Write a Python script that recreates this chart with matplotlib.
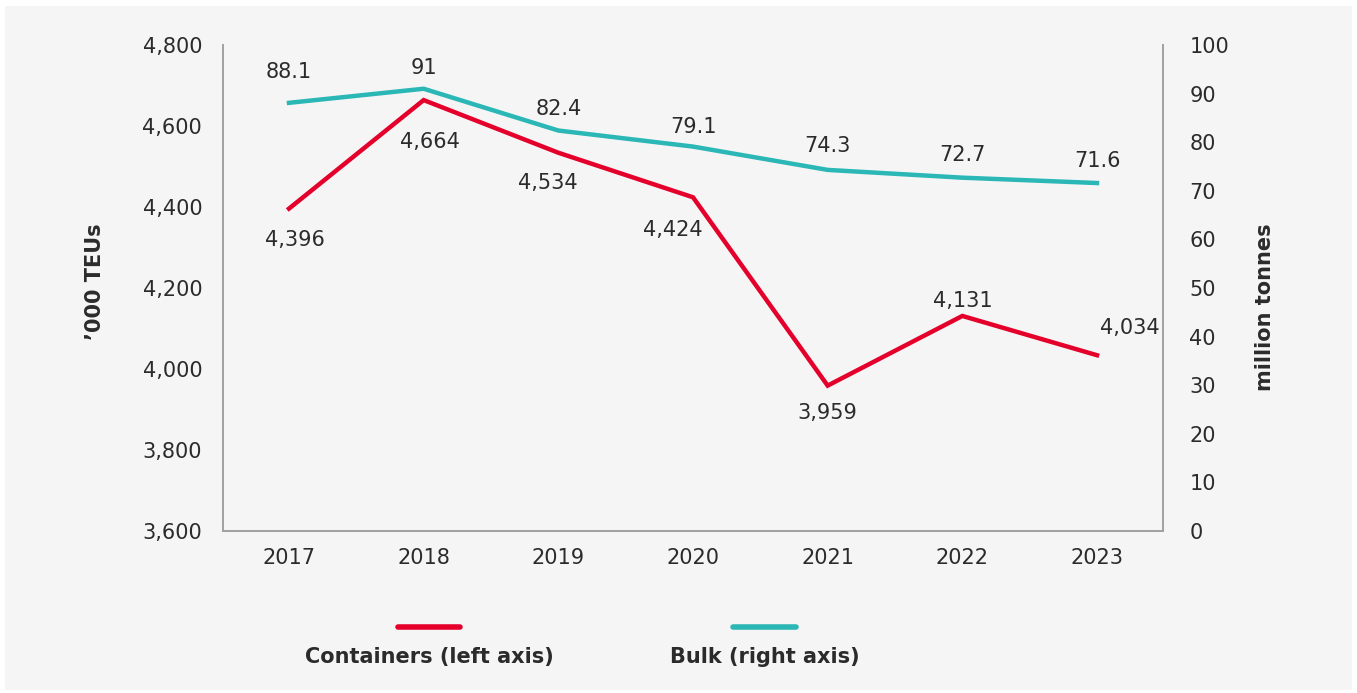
import matplotlib.pyplot as plt
from matplotlib.patches import Rectangle
from matplotlib.lines import Line2D

years = ["2017", "2018", "2019", "2020", "2021", "2022", "2023"]
containers = [4396, 4664, 4534, 4424, 3959, 4131, 4034]
bulk = [88.1, 91, 82.4, 79.1, 74.3, 72.7, 71.6]

# label offsets in pixels (dx, dy) from each point
cont_offsets = [(6, -31), (6, -42), (-11, -30), (-20, -33), (0, -27), (0, 15), (33, 27)]
bulk_offsets = [(0, 31), (0, 21), (0, 22), (0, 20), (0, 24), (0, 23), (0, 22)]

RED = "#e4002b"
TEAL = "#2ab7b5"
TXT = "#2b2b2b"
SPINE = "#a0a0a0"
PANEL = "#f5f5f5"

plt.rcParams["font.family"] = ["DejaVu Sans"]

fig = plt.figure(figsize=(13.57, 6.93), dpi=100, facecolor="white")
fig.patches.append(Rectangle((5 / 1357, 3 / 693), 1347 / 1357, 684 / 693,
                             transform=fig.transFigure, facecolor=PANEL,
                             edgecolor="none", zorder=-10))

ax = fig.add_axes([223 / 1357, (693 - 531) / 693, 940 / 1357, 486 / 693])
ax.set_facecolor("none")
ax2 = ax.twinx()

x = list(range(len(years)))
ax.plot(x, containers, color=RED, lw=3.2, solid_joinstyle="miter", zorder=3)
ax2.plot(x, bulk, color=TEAL, lw=3.2, zorder=3)

ax.set_xlim(-0.49, 6.49)
ax.set_ylim(3600, 4800)
ax2.set_ylim(0, 100)
ax.set_xticks(x)
ax.set_xticklabels(years)
ax.set_yticks(range(3600, 4801, 200))
ax.set_yticklabels([f"{v:,}" for v in range(3600, 4801, 200)])
ax2.set_yticks(range(0, 101, 10))

for a in (ax, ax2):
    for s in a.spines.values():
        s.set_color(SPINE)
        s.set_linewidth(1.2)
    a.spines["top"].set_visible(False)
ax.tick_params(axis="y", length=0, pad=15, labelsize=15, labelcolor=TXT)
ax.tick_params(axis="x", length=0, pad=12, labelsize=15, labelcolor=TXT)
ax2.tick_params(axis="y", length=0, pad=19, labelsize=15, labelcolor=TXT)

ax.set_ylabel("\u2019000 TEUs", fontsize=15, fontweight="bold", color=TXT)
ax2.set_ylabel("million tonnes", fontsize=15, fontweight="bold", color=TXT)
ax.yaxis.set_label_coords(-0.125, 0.512)
ax2.yaxis.set_label_coords(1.098, 0.461)

for xi, v, (dx, dy) in zip(x, containers, cont_offsets):
    ax.annotate(f"{v:,}", (xi, v), xytext=(dx, dy), textcoords="offset pixels",
                ha="center", va="center", fontsize=15, color=TXT)
for xi, v, (dx, dy) in zip(x, bulk, bulk_offsets):
    ax2.annotate(f"{v:g}", (xi, v), xytext=(dx, dy), textcoords="offset pixels",
                 ha="center", va="center", fontsize=15, color=TXT)

# legend: short line above each label
for x0, x1, col, label in [(398, 460, RED, "Containers (left axis)"),
                           (733, 796, TEAL, "Bulk (right axis)")]:
    fig.add_artist(Line2D([x0 / 1357, x1 / 1357], [1 - 627 / 693] * 2,
                          transform=fig.transFigure, color=col, lw=4,
                          solid_capstyle="round"))
    fig.text((x0 + x1) / 2 / 1357, 1 - 657 / 693, label, ha="center", va="center",
             fontsize=15, fontweight="bold", color=TXT)

fig.savefig("out.png", dpi=100, facecolor="white")
